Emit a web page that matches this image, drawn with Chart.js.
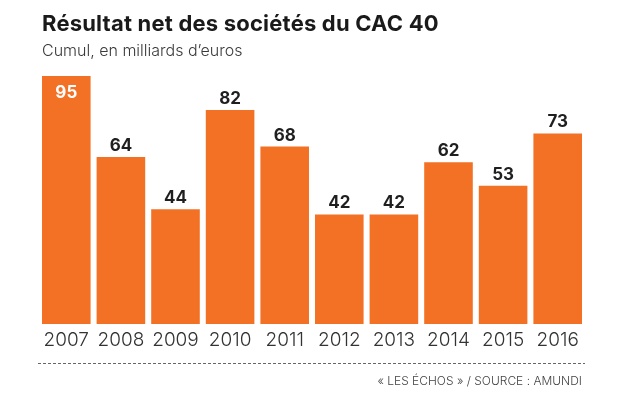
<!DOCTYPE html>
<html><head><meta charset="utf-8">
<script src="https://cdn.jsdelivr.net/npm/chart.js@4/dist/chart.umd.min.js"></script>
<style>html,body{margin:0;padding:0;background:#fff}#wrap{width:628px;height:397px;position:relative}</style>
</head><body><div id="wrap"><canvas id="c" width="628" height="397"></canvas></div>
<script>
const categories = ['2007','2008','2009','2010','2011','2012','2013','2014','2015','2016'];
const values = [95, 64, 44, 82, 68, 42, 42, 62, 53, 73];
const titleText = 'Résultat net des sociétés du CAC 40';
const subtitleText = 'Cumul, en milliards d\u2019euros';
const sourceText = '\u00ab LES \u00c9CHOS \u00bb / SOURCE : AMUNDI';

const FONT = 'Inter, "Noto Sans", sans-serif';
const ORANGE = '#F37124';

const textPlugin = {
  id: 'texts',
  afterDraw(chart) {
    const ctx = chart.ctx;
    ctx.save();
    ctx.textBaseline = 'alphabetic';
    ctx.textAlign = 'left';
    ctx.fillStyle = '#1a1a1a';
    ctx.font = '700 22px ' + FONT;
    if ('letterSpacing' in ctx) ctx.letterSpacing = '0.2px';
    ctx.fillText(titleText, 42, 31);
    if ('letterSpacing' in ctx) ctx.letterSpacing = '0px';
    ctx.fillStyle = '#3a3a3a';
    ctx.font = '300 16px ' + FONT;
    ctx.fillText(subtitleText, 42, 56);
    // value labels
    const meta = chart.getDatasetMeta(0);
    ctx.font = '700 17px ' + FONT;
    ctx.textAlign = 'center';
    meta.data.forEach((bar, i) => {
      if (i === 0) {
        ctx.fillStyle = '#fff';
        ctx.fillText(String(values[i]), bar.x, bar.y + 22);
      } else {
        ctx.fillStyle = '#1f1f1f';
        ctx.fillText(String(values[i]), bar.x, bar.y - 6);
      }
    });
    // dashed line
    ctx.strokeStyle = '#666';
    ctx.lineWidth = 1;
    ctx.setLineDash([3, 2]);
    ctx.beginPath();
    ctx.moveTo(38, 363.5);
    ctx.lineTo(585, 363.5);
    ctx.stroke();
    ctx.setLineDash([]);
    ctx.fillStyle = '#444';
    ctx.font = '300 12px ' + FONT;
    ctx.textAlign = 'right';
    ctx.fillText(sourceText, 582, 385);
    ctx.restore();
  }
};

new Chart(document.getElementById('c'), {
  type: 'bar',
  data: {
    labels: categories,
    datasets: [{
      data: values,
      backgroundColor: ORANGE,
      borderWidth: 0,
      categoryPercentage: 1,
      barPercentage: 0.89
    }]
  },
  options: {
    responsive: false,
    animation: false,
    devicePixelRatio: 1,
    layout: { padding: { left: 39, right: 43, top: 63, bottom: 0 } },
    plugins: { legend: { display: false }, tooltip: { enabled: false }, title: { display: false } },
    scales: {
      x: {
        grid: { display: false, drawTicks: false },
        border: { display: false },
        ticks: { color: '#333', font: { family: FONT, size: 19, weight: '300' }, padding: 5, maxRotation: 0 },
        afterFit(scale) { scale.height = 73; }
      },
      y: {
        display: false,
        min: 0,
        max: 100
      }
    }
  },
  plugins: [textPlugin]
});
</script></body></html>
